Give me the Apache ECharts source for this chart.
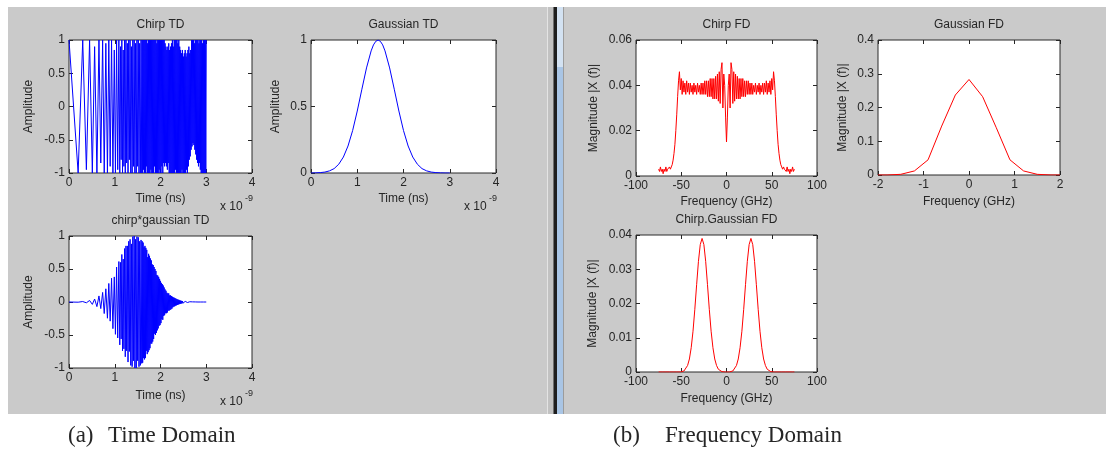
<!DOCTYPE html>
<html>
<head>
<meta charset="utf-8">
<script src="https://cdn.jsdelivr.net/npm/echarts@6/dist/echarts.min.js"></script>
<style>
  html, body { margin: 0; padding: 0; background: #ffffff; }
  #chart { width: 1106px; height: 450px; }
</style>
</head>
<body>
<div id="chart"></div>
<script>
// ---------------- time-domain data (time in ns) ----------------

// Chirp: early, well separated swings (extrema)
const chirpEarlyT = [0, 0.2, 0.3, 0.38, 0.45, 0.51, 0.56, 0.61, 0.655, 0.695, 0.735, 0.77,
  0.805, 0.84, 0.87, 0.9, 0.93, 0.96, 0.99, 1.015, 1.04, 1.065, 1.09];
const chirpEarlyA = [1, -1, 1, -0.95, 1, -1, 0.9, -1, 1, -0.85, 1, -1,
  0.95, -1, 1, -0.9, 1, -1, 0.85, -1, 1, -0.95, 1];

// Chirp: middle section, one extremum every 0.015 ns from 1.11 ns
const chirpMidStart = 1.11, chirpMidStep = 0.015;
const chirpMidA = [-1, 0.9, -0.8, 1, -1, 0.85, -0.9, 1, -1, 1,
  -0.85, 0.95, -1, 1, -0.8, 1, -1, 0.9, -1, 1,
  -0.9, 1, -1, 0.95, -1, 1, -0.9, 1, -1, 0.95,
  -1, 1, -1];

// Chirp: fast tail, one extremum every 0.01 ns from 1.6 ns to 3 ns
const chirpTailStart = 1.6, chirpTailStep = 0.01;
const chirpTailA = [
  1, -1, 1, -0.95, 1, -1, 1, -1, 1, -0.9, 1, -1, 0.95, -1, 1, -1, 1, -1, 1, -0.95,
  1, -1, 1, -1, 1, -1, 1, -0.9, 1, -1, 1, -1, 0.95, -1, 1, -1, 1, -0.95, 1, -1,
  1, -1, 1, -0.9, 1, -1, 1, -0.85, 1, -0.9, 0.95, -0.85, 0.9, -0.9, 0.85, -0.95, 0.9, -0.85, 0.95, -1,
  0.85, -1, 0.9, -1, 0.95, -1, 1, -1, 0.9, -1, 1, -1, 1, -0.95, 1, -1, 1, -1, 0.95, -1,
  1, -1, 0.9, -1, 0.85, -1, 0.8, -0.95, 0.85, -1, 0.75, -1, 0.8, -1, 0.85, -1, 0.75, -0.95, 0.8, -1,
  0.85, -0.9, 0.9, -0.8, 0.8, -0.75, 0.85, -0.65, 1, -0.6, 1, -0.55, 1, -0.58, 0.95, -0.65, 1, -0.72, 1, -0.8,
  1, -0.85, 1, -0.9, 0.95, -0.85, 1, -0.95, 1, -1, 1, -1, 0.95, -1, 1, -1, 1, -1, 1, -1,
  1];

// Gaussian pulse
const gaussT = [0, 0.1, 0.2, 0.3, 0.4, 0.5, 0.6, 0.7, 0.8, 0.9, 1.0, 1.1, 1.2, 1.3, 1.35, 1.4, 1.45,
  1.5, 1.55, 1.6, 1.7, 1.8, 1.9, 2.0, 2.1, 2.2, 2.3, 2.4, 2.5, 2.6, 2.7, 2.8, 2.9, 3.0];
const gaussA = [0, 0.001, 0.003, 0.007, 0.016, 0.033, 0.066, 0.12, 0.203, 0.319, 0.466, 0.63, 0.79, 0.918, 0.963, 0.99, 1,
  0.99, 0.963, 0.918, 0.79, 0.63, 0.466, 0.319, 0.203, 0.12, 0.066, 0.033, 0.016, 0.007, 0.003, 0.001, 0, 0];

// chirp*gaussian: same extremum times as the chirp
const pulseEarlyA = [0, -0.003, 0.007, -0.012, 0.023, -0.036, 0.045, -0.07, 0.092, -0.1, 0.145, -0.175,
  0.2, -0.246, 0.281, -0.29, 0.36, -0.404, 0.38, -0.49, 0.53, -0.545, 0.613];
const pulseMidA = [-0.65, 0.6, -0.56, 0.72, -0.74, 0.65, -0.71, 0.81, -0.83, 0.85,
  -0.74, 0.85, -0.91, 0.92, -0.75, 0.95, -0.96, 0.88, -0.98, 0.99,
  -0.89, 1, -1, 0.95, -1, 0.99, -0.89, 0.98, -0.98, 0.92,
  -0.96, 0.94, -0.93];
const pulseTailA = [
  0.92, -0.92, 0.9, -0.85, 0.83, -0.87, 0.85, -0.85, 0.82, -0.74, 0.79, -0.79, 0.68, -0.76, 0.73, -0.73, 0.7, -0.7, 0.66, -0.63,
  0.63, -0.63, 0.57, -0.6, 0.56, -0.56, 0.53, -0.48, 0.5, -0.5, 0.47, -0.47, 0.41, -0.43, 0.4, -0.4, 0.38, -0.36, 0.35, -0.35,
  0.32, -0.32, 0.29, -0.26, 0.27, -0.27, 0.25, -0.21, 0.22, -0.2, 0.19, -0.17, 0.17, -0.17, 0.14, -0.16, 0.13, -0.13, 0.13, -0.13,
  0.1, -0.12, 0.1, -0.11, 0.09, -0.1, 0.08, -0.08, 0.07, -0.07, 0.065, -0.065, 0.057, -0.055, 0.05, -0.05, 0.044, -0.044, 0.036, -0.038,
  0.033, -0.033, 0.026, -0.029, 0.021, -0.025, 0.017, -0.02, 0.015, -0.018, 0.012, -0.016, 0.01, -0.013, 0.009, -0.011, 0.007, -0.009, 0.006, -0.008,
  0.006, -0.006, 0.005, -0.005, 0.004, -0.004, 0.003, -0.003, 0.003, -0.002, 0.002, -0.002, 0.002, -0.002, 0.001, -0.001, 0.001, -0.001, 0.001, -0.001,
  0, 0, 0, 0, 0, 0, 0, 0, 0, 0, 0, 0, 0, 0, 0, 0, 0, 0, 0, 0,
  0];

// ---------------- frequency-domain data (GHz) ----------------

// |X(f)| of the chirp, one bin per GHz from -75 to 75
const chirpFdStart = -75, chirpFdStep = 1;
const chirpFdMag = [
  // -75 .. -61
  0.003, 0.002, 0.004, 0.002, 0.003, 0.001, 0.003, 0.002, 0.004, 0.002, 0.003, 0.003, 0.004, 0.003, 0.004,
  // -60 .. -52
  0.005, 0.007, 0.01, 0.014, 0.02, 0.027, 0.035, 0.042, 0.046,
  // -51 .. -7
  0.038, 0.043, 0.036, 0.042, 0.037, 0.041, 0.036, 0.042, 0.037, 0.041,
  0.036, 0.041, 0.037, 0.04, 0.036, 0.041, 0.037, 0.04, 0.036, 0.041,
  0.037, 0.04, 0.036, 0.041, 0.036, 0.041, 0.036, 0.042, 0.036, 0.042,
  0.035, 0.042, 0.035, 0.043, 0.035, 0.043, 0.034, 0.043, 0.034, 0.044,
  0.034, 0.045, 0.033, 0.046, 0.032,
  // -6 .. 6
  0.047, 0.05, 0.03, 0.045, 0.04, 0.026, 0.015, 0.026, 0.04, 0.045, 0.03, 0.05, 0.047,
  // 7 .. 51
  0.032, 0.046, 0.033, 0.045, 0.034, 0.044, 0.034, 0.043, 0.034, 0.043,
  0.035, 0.043, 0.035, 0.042, 0.035, 0.042, 0.036, 0.042, 0.036, 0.041,
  0.036, 0.041, 0.036, 0.04, 0.037, 0.041, 0.036, 0.04, 0.037, 0.041,
  0.036, 0.04, 0.037, 0.041, 0.036, 0.041, 0.037, 0.042, 0.036, 0.041,
  0.037, 0.042, 0.036, 0.043, 0.038,
  // 52 .. 60
  0.046, 0.042, 0.035, 0.027, 0.02, 0.014, 0.01, 0.007, 0.005,
  // 61 .. 75
  0.004, 0.003, 0.004, 0.003, 0.003, 0.002, 0.004, 0.002, 0.003, 0.001, 0.003, 0.002, 0.004, 0.002, 0.003
];

// |X(f)| of the Gaussian pulse
const gaussFdF = [-2, -1.8, -1.5, -1.2, -0.9, -0.6, -0.3, 0, 0.3, 0.6, 0.9, 1.2, 1.5, 1.8, 2];
const gaussFdMag = [0, 0, 0.002, 0.012, 0.045, 0.145, 0.237, 0.283, 0.232, 0.14, 0.045, 0.012, 0.002, 0, 0];

// |X(f)| of chirp*gaussian, one bin every 2 GHz from -75 to 75
const pulseFdStart = -75, pulseFdStep = 2;
const pulseFdMag = [
  // -75 .. -51
  0, 0, 0, 0, 0, 0, 0, 0, 0, 0, 0, 0, 0,
  // -49 .. -5
  0.0001, 0.0003, 0.0008, 0.0019, 0.0038, 0.0071, 0.0119, 0.0183, 0.0255, 0.0323, 0.0372, 0.039,
  0.0372, 0.0323, 0.0255, 0.0183, 0.0119, 0.0071, 0.0038, 0.0019, 0.0008, 0.0003, 0.0001,
  // -3 .. 3
  0, 0, 0, 0,
  // 5 .. 49
  0.0001, 0.0003, 0.0008, 0.0019, 0.0038, 0.0071, 0.0119, 0.0183, 0.0255, 0.0323, 0.0372, 0.039,
  0.0372, 0.0323, 0.0255, 0.0183, 0.0119, 0.0071, 0.0038, 0.0019, 0.0008, 0.0003, 0.0001,
  // 51 .. 75
  0, 0, 0, 0, 0, 0, 0, 0, 0, 0, 0, 0, 0
];

// ---------------- helpers ----------------
function pairs(xs, ys) { return xs.map((x, i) => [x, ys[i]]); }
function sampled(start, step, ys) { return ys.map((y, i) => [+(start + i * step).toFixed(4), y]); }

const chirpT = chirpEarlyT
  .concat(chirpMidA.map((_, i) => +(chirpMidStart + i * chirpMidStep).toFixed(4)))
  .concat(chirpTailA.map((_, i) => +(chirpTailStart + i * chirpTailStep).toFixed(4)));

const chirpTd = pairs(chirpT, chirpEarlyA.concat(chirpMidA, chirpTailA));
const gaussTd = pairs(gaussT, gaussA);
const pulseTd = pairs(chirpT, pulseEarlyA.concat(pulseMidA, pulseTailA));
const chirpFd = sampled(chirpFdStart, chirpFdStep, chirpFdMag);
const gaussFd = pairs(gaussFdF, gaussFdMag);
const pulseFd = sampled(pulseFdStart, pulseFdStep, pulseFdMag);

// ---------------- layout ----------------
const INK = '#262626';
const SANS = '"Liberation Sans", Arial, sans-serif';
const SERIF = '"Liberation Serif", "Times New Roman", serif';
const BLUE = '#0000ff', RED = '#ff0000';

const panels = [
  { title: 'Chirp TD', box: [69, 40, 183, 133], x: [0, 4, 1], y: [-1, 1, 0.5],
    xName: 'Time (ns)', yName: 'Amplitude', xGap: 20, yGap: 34, data: chirpTd, color: BLUE, exp: true },
  { title: 'Gaussian TD', box: [311, 40, 185, 133], x: [0, 4, 1], y: [0, 1, 0.5],
    xName: 'Time (ns)', yName: 'Amplitude', xGap: 20, yGap: 29, data: gaussTd, color: BLUE, exp: true },
  { title: 'chirp*gaussian TD', box: [69, 236, 183, 132], x: [0, 4, 1], y: [-1, 1, 0.5],
    xName: 'Time (ns)', yName: 'Amplitude', xGap: 22, yGap: 34, data: pulseTd, color: BLUE, exp: true },
  { title: 'Chirp FD', box: [636, 40, 181, 136], x: [-100, 100, 50], y: [0, 0.06, 0.02],
    xName: 'Frequency (GHz)', yName: 'Magnitude |X (f)|', xGap: 20, yGap: 36, data: chirpFd, color: RED },
  { title: 'Gaussian FD', box: [878, 40, 182, 135], x: [-2, 2, 1], y: [0, 0.4, 0.1],
    xName: 'Frequency (GHz)', yName: 'Magnitude |X (f)|', xGap: 21, yGap: 29, data: gaussFd, color: RED },
  { title: 'Chirp.Gaussian FD', box: [636, 235, 181, 137], x: [-100, 100, 50], y: [0, 0.04, 0.01],
    xName: 'Frequency (GHz)', yName: 'Magnitude |X (f)|', xGap: 21, yGap: 37, data: pulseFd, color: RED }
];

const grids = [], xAxes = [], yAxes = [], series = [];
const elements = [];

// figure backgrounds and the splitter between the two windows
const FIG_TOP = 7, FIG_H = 407;
elements.push(
  { type: 'rect', z: -10, shape: { x: 8, y: FIG_TOP, width: 539, height: FIG_H }, style: { fill: '#cacaca' } },
  { type: 'rect', z: -10, shape: { x: 547, y: FIG_TOP, width: 1, height: FIG_H }, style: { fill: '#e4e4e4' } },
  { type: 'rect', z: -10, shape: { x: 548, y: FIG_TOP, width: 5, height: FIG_H }, style: { fill: '#c2c2c2' } },
  { type: 'rect', z: -10, shape: { x: 553, y: FIG_TOP, width: 1, height: FIG_H }, style: { fill: '#6e6e6e' } },
  { type: 'rect', z: -10, shape: { x: 554, y: FIG_TOP, width: 3, height: FIG_H }, style: { fill: '#1e1e1e' } },
  { type: 'rect', z: -10, shape: { x: 557, y: FIG_TOP, width: 6, height: 60 }, style: { fill: '#d3e2f2' } },
  { type: 'rect', z: -10, shape: { x: 557, y: FIG_TOP + 60, width: 6, height: FIG_H - 60 }, style: { fill: '#a9c5e5' } },
  { type: 'rect', z: -10, shape: { x: 563, y: FIG_TOP, width: 1, height: FIG_H }, style: { fill: '#9c9c9c' } },
  { type: 'rect', z: -10, shape: { x: 564, y: FIG_TOP, width: 542, height: FIG_H }, style: { fill: '#cacaca' } }
);

function text(x, y, str, font, align) {
  return { type: 'text', x: x, y: y, z: 10,
    style: { text: str, font: font, fill: INK, textAlign: align || 'center', align: align || 'center',
      textVerticalAlign: 'middle', verticalAlign: 'middle' } };
}

panels.forEach((p, i) => {
  const [left, top, w, h] = p.box;
  grids.push({ left: left, top: top, width: w, height: h, show: true, backgroundColor: '#ffffff',
    borderColor: '#2a2a2a', borderWidth: 1, containLabel: false, outerBoundsMode: 'none' });

  const tick = { show: true, inside: true, length: 4, lineStyle: { color: INK, width: 1 } };
  const line = { show: false, onZero: false };
  const label = { show: true, margin: 4, color: INK, fontSize: 12, fontFamily: SANS,
    showMinLabel: true, showMaxLabel: true, hideOverlap: false };
  const nameStyle = { color: INK, fontSize: 12, fontFamily: SANS };

  xAxes.push(
    { gridIndex: i, type: 'value', position: 'bottom', min: p.x[0], max: p.x[1], interval: p.x[2],
      axisLine: line, axisTick: tick, axisLabel: label, splitLine: { show: false },
      name: p.xName, nameLocation: 'middle', nameGap: p.xGap, nameTextStyle: nameStyle },
    { gridIndex: i, type: 'value', position: 'top', min: p.x[0], max: p.x[1], interval: p.x[2],
      axisLine: line, axisTick: tick, axisLabel: { show: false }, splitLine: { show: false } }
  );
  yAxes.push(
    { gridIndex: i, type: 'value', position: 'left', min: p.y[0], max: p.y[1], interval: p.y[2],
      axisLine: line, axisTick: tick, axisLabel: label, splitLine: { show: false },
      name: p.yName, nameLocation: 'middle', nameGap: p.yGap, nameTextStyle: nameStyle },
    { gridIndex: i, type: 'value', position: 'right', min: p.y[0], max: p.y[1], interval: p.y[2],
      axisLine: line, axisTick: tick, axisLabel: { show: false }, splitLine: { show: false } }
  );

  series.push({
    type: 'line', xAxisIndex: 2 * i, yAxisIndex: 2 * i, data: p.data,
    showSymbol: false, symbol: 'none', clip: true, silent: true, animation: false,
    lineStyle: { color: p.color, width: 1 }, itemStyle: { color: p.color }
  });

  // panel title
  const cx = left + w / 2;
  elements.push(text(cx, top - 15, p.title, '12px ' + SANS));

  // exponent note under time axes
  if (p.exp) {
    const bottom = top + h;
    elements.push(text(left + w - 32, bottom + 34, 'x 10', '12px ' + SANS, 'left'));
    elements.push(text(left + w - 7, bottom + 26, '-9', '9px ' + SANS, 'left'));
  }
});

// sub-figure captions
elements.push(text(68, 436, '(a)', '23px ' + SERIF, 'left'));
elements.push(text(108, 436, 'Time Domain', '23px ' + SERIF, 'left'));
elements.push(text(613, 436, '(b)', '23px ' + SERIF, 'left'));
elements.push(text(665, 436, 'Frequency Domain', '23px ' + SERIF, 'left'));

const chart = echarts.init(document.getElementById('chart'), null, { renderer: 'canvas' });
chart.setOption({
  backgroundColor: '#ffffff',
  animation: false,
  grid: grids,
  xAxis: xAxes,
  yAxis: yAxes,
  series: series,
  graphic: { elements: elements }
});
</script>
</body>
</html>
